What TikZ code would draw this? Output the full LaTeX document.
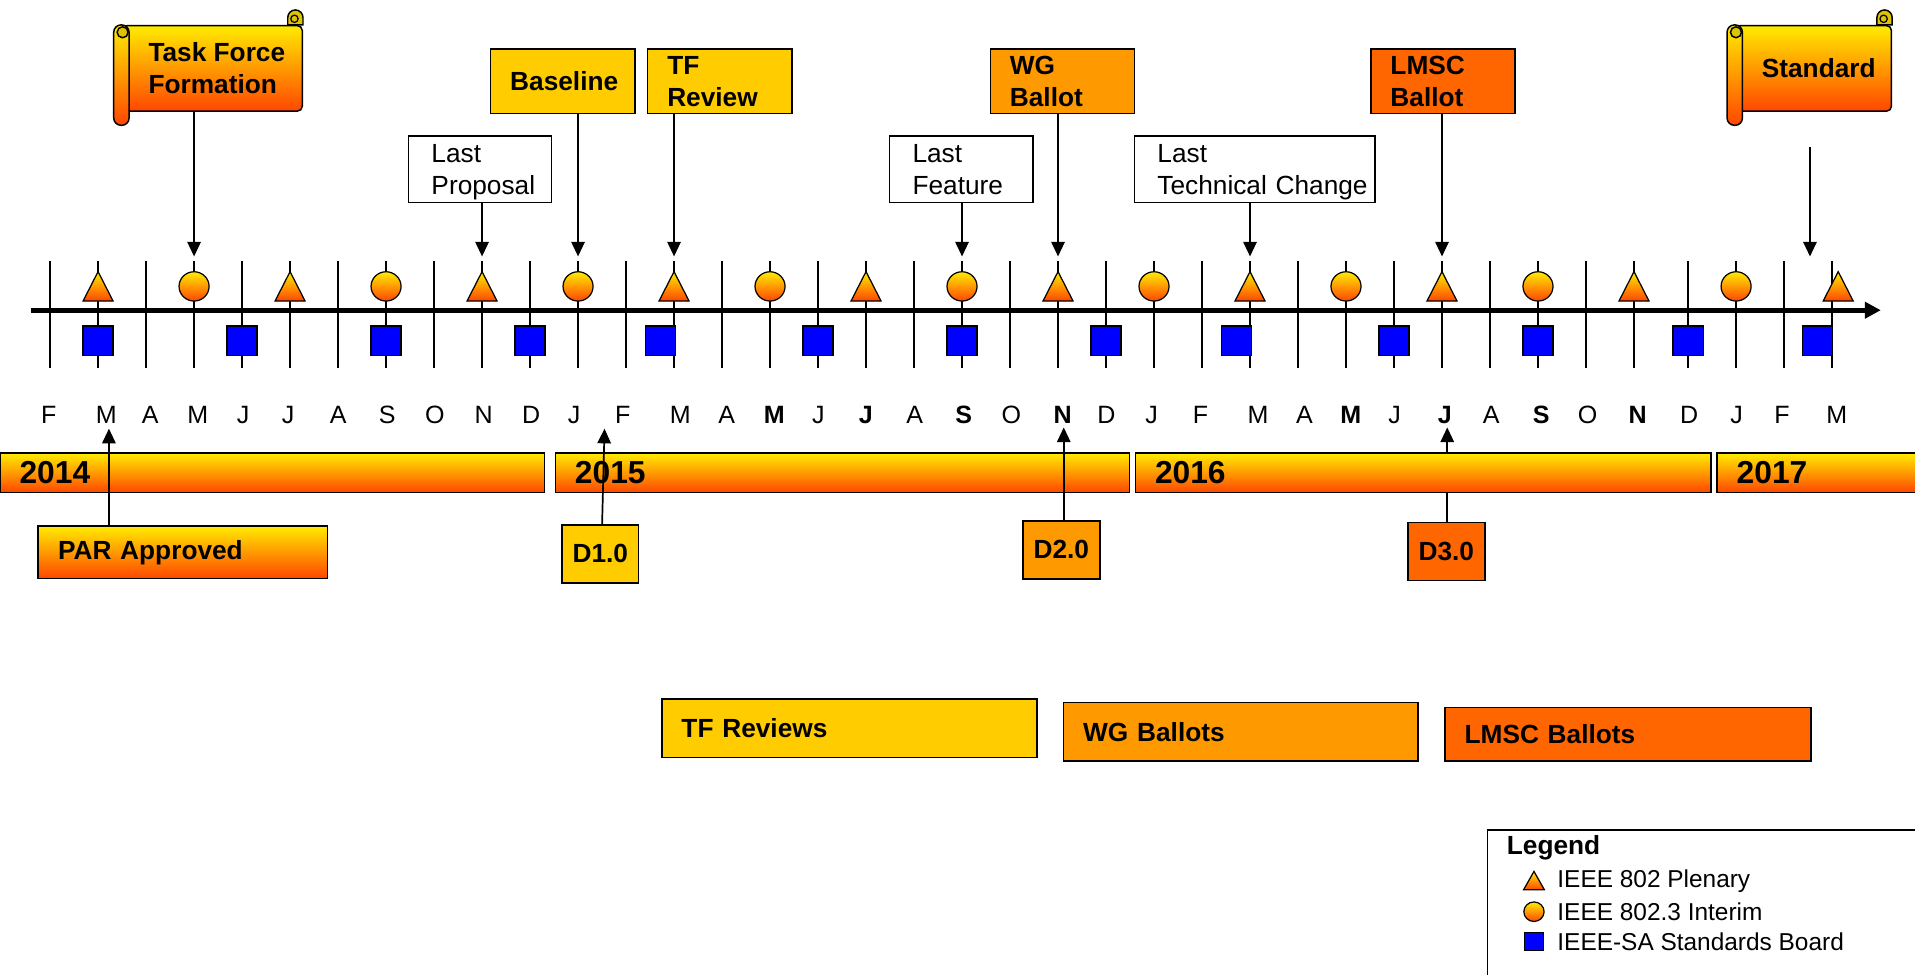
\documentclass[tikz,border=0pt]{standalone}
\usepackage{fontspec}
\setmainfont{Liberation Sans}
\usetikzlibrary{arrows.meta}

\definecolor{gold}{RGB}{255,204,0}
\definecolor{amber}{RGB}{255,153,0}
\definecolor{tangerine}{RGB}{255,102,0}
\definecolor{sunny}{RGB}{255,235,0}
\definecolor{flame}{RGB}{255,70,0}
\definecolor{boardblue}{RGB}{0,0,255}
\definecolor{curlgold}{RGB}{222,196,0}

\tikzset{
  glow/.style={top color=sunny, bottom color=flame},
  pointer/.style={line width=1.4pt, -{Triangle[length=12pt,width=11pt]}},
  monthline/.style={line width=1.4pt},
  month/.style={inner sep=0pt, font=\fontsize{20.5}{24}\selectfont},
  tag/.style={inner sep=0pt, align=left, font=\fontsize{21.5}{26}\selectfont\bfseries},
  flag/.style={draw, line width=1.2pt, minimum height=52.7pt, inner xsep=16pt, text width=86pt, align=left, font=\fontsize{21.5}{26}\selectfont\bfseries},
  note/.style={draw, fill=white, line width=1.2pt, minimum height=54.6pt, inner xsep=19pt, text depth=26pt, align=left, font=\fontsize{21.5}{26}\selectfont},
  draft/.style={draw, line width=1.2pt, minimum width=63pt, minimum height=47.5pt, inner sep=0pt, font=\fontsize{21.5}{26}\selectfont\bfseries},
  phase/.style={draw, line width=1.2pt, inner xsep=16pt, align=left, font=\fontsize{21.5}{26}\selectfont\bfseries},
  yearbar/.style={draw, line width=1.2pt, glow, minimum height=32.4pt, inner xsep=16pt, align=left, font=\fontsize{26}{30}\selectfont\bfseries},
  scroll/.style={draw, line width=1.2pt, glow, rounded corners=4pt, minimum height=70pt},
  roll/.style={draw, line width=1.2pt, glow, rounded corners=6pt},
  curl/.style={draw, line width=1.2pt, fill=curlgold},
  plenary/.style={draw, line width=1pt, glow},
  interim/.style={draw, line width=1pt, glow},
  board/.style={draw, line width=1pt, fill=boardblue},
  legendtext/.style={anchor=west, inner sep=0pt, font=\fontsize{20}{24}\selectfont}
}

\begin{document}
\begin{tikzpicture}[x=1pt, y=-1pt,
  declare function={tx(\n)=41+39.3*\n+5*(\n>33);}]
  \useasboundingbox (0,0) rectangle (1568,798);

  \foreach \k in {0,...,37}{
    \draw[monthline] ({tx(\k)},214) -- ({tx(\k)},301);
    \coordinate (top\k) at ({tx(\k)},210);
  }
  \draw[line width=4pt, -{Triangle[length=13pt,width=13pt]}] (25,254) -- (1540,254);

  \foreach \k/\dx in {1/0,5/0,9/0,13/0,17/0,21/0,25/0,29/0,33/0,37/5}
    \draw[plenary] ({tx(\k)+(\dx)-12.3},246.5) -- ({tx(\k)+(\dx)},222.4) -- ({tx(\k)+(\dx)+12.3},246.5) -- cycle;
  \foreach \k in {3,7,...,35}
    \draw[interim] ({tx(\k)},234.5) ellipse[x radius=12.3pt, y radius=12pt];
  \foreach \k/\dx in {1/0,4/0,7/0,10/0,13/-11,16/0,19/0,22/0,25/-11,28/0,31/0,34/0,37/-12}
    \draw[board] ({tx(\k)+(\dx)-12.3},267) rectangle ({tx(\k)+(\dx)+12.3},291.2);

  \foreach \lx/\m [count=\i] in {40/F,87/M,123/A,162/M,199/J,236/J,277/A,317/S,356/O,396/N,435/D,
      470/J,510/F,557/M,595/A,634/\textbf{M},670/J,709/\textbf{J},749/A,789/\textbf{S},828/O,870/\textbf{N},906/D,
      943/J,983/F,1030/M,1068/A,1106/\textbf{M},1142/J,1183/\textbf{J},1221/A,1262/\textbf{S},1300/O,1341/\textbf{N},1383/D,
      1422/J,1459/F,1504/M}
    \node[month] (mon\i) at (\lx,340) {\m};

  \node[scroll, minimum width=147.5pt] (tff) at (173.75,56) {};
  \node[scroll, minimum width=127.7pt] (std) at (1484.85,56) {};
  \foreach \s in {tff,std}{
    \filldraw[curl] ([xshift=-12.5pt]\s.north east) -- ++(0,6pt) arc[start angle=180, end angle=0, radius=6.25pt] -- (\s.north east) -- cycle;
    \draw[line width=1pt] ([xshift=-7pt,yshift=5pt]\s.north east) circle[radius=3pt];
    \draw[roll] ([xshift=-6.3pt]\s.north west) rectangle ([xshift=6.3pt,yshift=-11pt]\s.south west);
    \draw[curl] ([xshift=1pt,yshift=-6pt]\s.north west) circle[radius=4.5pt];
  }
  \node[tag, anchor=west] (tfftext) at ([xshift=22pt]tff.west) {Task Force\\Formation};
  \node[tag, anchor=west] (stdtext) at ([xshift=22pt]std.west) {Standard};

  \node[flag, fill=gold] (base) at (460.75,66.5) {Baseline};
  \node[flag, fill=gold] (tfr) at (589.35,66.5) {TF\\Review};
  \node[flag, fill=amber] (wgb) at (869.9,66.5) {WG\\Ballot};
  \node[flag, fill=tangerine] (lmsc) at (1181.5,66.5) {LMSC\\Ballot};

  \node[note, text width=79.4pt] (lprop) at (393,138.7) {Last\\Proposal};
  \node[note, text width=79.7pt] (lfeat) at (787,138.7) {Last\\Feature};
  \node[note, text width=159.2pt] (ltech) at (1027.3,138.7) {Last\\Technical~Change};

  \draw[pointer] (tff.south -| top3) -- (top3);
  \draw[pointer] (lprop.south -| top9) -- (top9);
  \draw[pointer] (base.south -| top11) -- (top11);
  \draw[pointer] (tfr.south -| top13) -- (top13);
  \draw[pointer] (lfeat.south -| top19) -- (top19);
  \draw[pointer] (wgb.south -| top21) -- (top21);
  \draw[pointer] (ltech.south -| top25) -- (top25);
  \draw[pointer] (lmsc.south -| top29) -- (top29);
  \coordinate (stdfrom) at (1482,120);
  \coordinate (stdto) at (1482,210);
  \draw[pointer] (stdfrom) -- (stdto);

  \node[draw, line width=1.2pt, glow, minimum height=43pt, inner xsep=16.5pt, text width=204pt, align=left,
    font=\fontsize{21.5}{26}\selectfont\bfseries] (par) at (149.5,452.2) {PAR Approved};
  \node[draft, fill=gold] (d1) at (491.5,453.5) {D1.0};
  \node[draft, fill=amber] (d2) at (869,450.3) {D2.0};
  \node[draft, fill=tangerine] (d3) at (1184.25,451.7) {D3.0};
  \coordinate (parup) at (89.2,351);
  \coordinate (d1up) at (495,351);
  \coordinate (d2up) at (871,350);
  \coordinate (d3up) at (1185,350);
  \draw[pointer] (d3.north -| d3up) -- (d3up);

  \node[yearbar, text width=414pt] (y2014) at (223,387.2) {2014};
  \node[yearbar, text width=437.9pt] (y2015) at (689.75,387.2) {2015};
  \node[yearbar, text width=439.3pt] (y2016) at (1165.35,387.2) {2016};
  \node[yearbar, text width=438pt] (y2017) at (1641,387.2) {2017};

  \draw[pointer] (par.north -| parup) -- (parup);
  \draw[pointer] ([xshift=1.5pt]d1.north) -- (d1up);
  \draw[pointer] (d2.north -| d2up) -- (d2up);

  \node[phase, fill=gold, text width=275pt, minimum height=48pt] (tfrs) at (695.5,596.35) {TF Reviews};
  \node[phase, fill=amber, text width=258.1pt, minimum height=47.7pt] (wgbs) at (1015.95,599.25) {WG Ballots};
  \node[phase, fill=tangerine, text width=267.6pt, minimum height=43.7pt] (lmscbs) at (1333,601.25) {LMSC Ballots};

  \draw[line width=1.2pt] (1217.8,679.6) rectangle (1600,830);
  \node[tag, anchor=west] (lgtitle) at (1233.6,694) {Legend};
  \draw[plenary] (1247.5,728.5) -- (1256,713.5) -- (1264.5,728.5) -- cycle;
  \node[legendtext] (lgplen) at (1275,721.5) {IEEE 802 Plenary};
  \draw[interim] (1256,746.5) ellipse[x radius=8.3pt, y radius=8pt];
  \node[legendtext] (lgint) at (1275,746.5) {IEEE 802.3 Interim};
  \draw[board] (1248.5,763.5) rectangle (1263.5,778.5);
  \node[legendtext] (lgsb) at (1275,771) {IEEE-SA Standards Board};
\end{tikzpicture}
\end{document}
